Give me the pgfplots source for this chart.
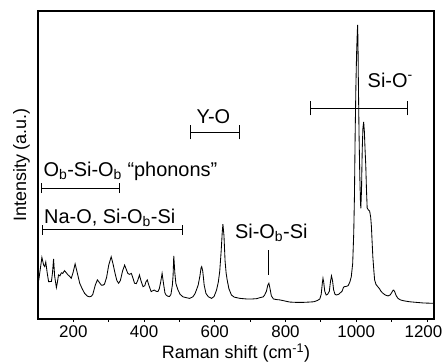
\documentclass[border=0pt]{standalone}
\usepackage{pgfplots}
\pgfplotsset{compat=1.18}
\usepackage{fontspec}
\setmainfont{Liberation Sans}
\begin{document}
\begin{tikzpicture}
\begin{axis}[
  name=ax,
  at={(0,0)}, anchor=south west,
  width=396bp, height=308bp, scale only axis,
  xmin=100, xmax=1220, ymin=0, ymax=100,
  axis line style={line width=1.1pt},
  ytick=\empty,
  xtick={200,400,...,1200},
  xticklabels={200,400,600,800,1000,{\hspace*{-7bp}1200}},
  minor x tick num=1,
  xtick pos=bottom, xtick align=outside,
  major tick length=3bp, minor tick length=2.5bp,
  every tick/.style={black, line width=0.8pt},
  ticklabel style={font=\fontsize{17}{18}\selectfont, inner ysep=1bp},
  xticklabel style={yshift=-2bp},
  xlabel={Raman shift (cm\textsuperscript{-1})},
  ylabel={Intensity (a.u.)},
  label style={font=\fontsize{18}{20}\selectfont, inner sep=1bp},
  xlabel style={at={(axis description cs:0.5,0)}, anchor=center, yshift=-34bp},
  ylabel style={at={(axis description cs:0,0.5)}, anchor=center, yshift=16.5bp},
  clip=false,
]
\addplot[black, line width=0.85pt] coordinates {
(102,12.5)(105,15)(111,20)(116,17.5)(119,17)(122,18.5)(126,15)(130,12.1)(138,12.2)(141,15)(144,19.5)(147,14)(152,10.2)(155,12)(158,14.3)(162,14)(166,15)(170,14.8)(175,15.7)(180,15)(185,14.3)(190,13.8)(194,13.2)(199,15)(205,17.9)(210,15.5)(218,11.6)(225,9.8)(232,8.3)(240,7.4)(246,7.2)(251,7.4)(255,8)(262,11)(268,12.7)(274,11.8)(279,11)(284,11)(288,11.3)(294,13.5)(300,17.5)(307,20.2)(312,18)(318,14.8)(323,12.5)(328,11.6)(333,12.5)(339,15.5)(345,17.5)(350,16)(354,14.8)(359,14.5)(364,14.8)(368,13.5)(373,11.6)(378,11.5)(382,12.5)(387,14.3)(391,12.5)(397,10.5)(402,10.8)(405,12)(409,12.7)(414,10.8)(420,8.9)(425,9.2)(429,9.4)(434,9.0)(439,8.9)(443,9.8)(447,12)(451,14.8)(455,11.5)(459,8.5)(462,7.8)(467,7.4)(472,7.3)(476,8)(480,11)(482,14)(484,20.5)(487,15)(490,11.5)(496,9.4)(502,8)(510,7.2)(520,6.9)(529,6.7)(538,7.2)(544,8.2)(548,9.4)(553,11)(558,14)(561,16.5)(563,17)(566,15.5)(570,11)(575,8.3)(582,7.2)(591,6.7)(598,7.3)(605,9.4)(610,12)(614,15.5)(618,22)(621,28)(623,30.8)(626,27)(629,19)(632,15)(635,12.7)(640,9.8)(647,7.8)(655,7.1)(671,6.7)(690,6.5)(705,6.5)(718,6.6)(730,7)(737,7.2)(741,7.8)(746,9)(750,11)(753,11.6)(756,10)(760,7.5)(766,6.5)(775,6.3)(784,6.2)(800,5.8)(812,5.5)(830,5.4)(850,5.4)(868,5.5)(880,5.6)(890,6)(897,6.5)(901,8)(904,11.5)(906,13.2)(908,12)(911,9)(915,7.8)(919,8)(924,9)(927,12)(930,14)(933,12.5)(936,9.5)(940,8)(944,7.8)(950,8)(955,8.5)(960,9)(964,10.3)(967,10.5)(972,10.6)(977,10.8)(982,12)(986,13.7)(990,18)(993,27.9)(995,40)(997,60)(999,75)(1001,86)(1003,93)(1004,95.5)(1005,90)(1006,78)(1008,60)(1010,47)(1012,38)(1013,35.9)(1015,42)(1017,55)(1019,62)(1021,64)(1023,61)(1025,55)(1027,50)(1029,42)(1031,36)(1034,35.5)(1038,35)(1041,33)(1043,30)(1045,25)(1047,20.2)(1050,15.5)(1052,12.7)(1056,11.2)(1061,10.5)(1066,9.8)(1070,9)(1075,8.4)(1082,7.8)(1090,7.5)(1096,7.8)(1100,8.5)(1104,9.3)(1106,9.4)(1109,8.8)(1113,7.6)(1118,6.7)(1125,6.2)(1135,5.9)(1151,5.6)(1170,5.4)(1190,5.2)(1217,5.1)
};
% annotations
\begin{scope}[line width=1.1pt, black]
\draw (axis cs:871,68.4) -- (axis cs:1144,68.4);
\draw (axis cs:871,66.1) -- (axis cs:871,70.7);
\draw (axis cs:1144,66.1) -- (axis cs:1144,70.7);
\draw (axis cs:531,60.6) -- (axis cs:669,60.6);
\draw (axis cs:531,58.3) -- (axis cs:531,62.9);
\draw (axis cs:669,58.3) -- (axis cs:669,62.9);
\draw (axis cs:110.5,42.5) -- (axis cs:330,42.5);
\draw (axis cs:110.5,40.9) -- (axis cs:110.5,44.1);
\draw (axis cs:330,40.9) -- (axis cs:330,44.1);
\draw (axis cs:113,29) -- (axis cs:509,29);
\draw (axis cs:113,27.4) -- (axis cs:113,30.6);
\draw (axis cs:509,27.4) -- (axis cs:509,30.6);
\draw (axis cs:752,22.4) -- (axis cs:752,14.3);
\end{scope}
\begin{scope}[every node/.style={font=\fontsize{20}{22}\selectfont, inner sep=0pt}]
\node[anchor=base west] at (axis cs:1032,75.2) {Si-O\textsuperscript{-}};
\node[anchor=base] at (axis cs:596,63.6) {Y-O};
\node[anchor=base west] at (axis cs:115,46.4) {O\textsubscript{b}-Si-O\textsubscript{b} “phonons”};
\node[anchor=base west] at (axis cs:117,31.1) {Na-O, Si-O\textsubscript{b}-Si};
\node[anchor=base west] at (axis cs:657,26.2) {Si-O\textsubscript{b}-Si};
\end{scope}
\end{axis}
\pgfresetboundingbox
\path[use as bounding box] ([shift={(-38bp,-45bp)}]ax.south west) rectangle ([shift={(9bp,11bp)}]ax.north east);
\end{tikzpicture}
\end{document}
